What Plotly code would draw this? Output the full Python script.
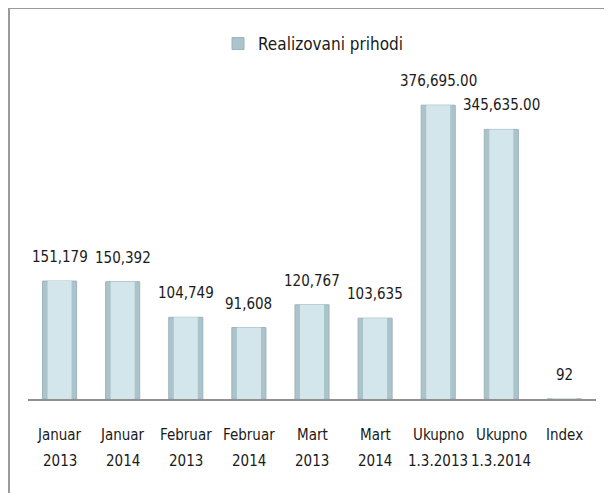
import plotly.graph_objects as go

# ---- data ----
cat_line1 = ["Januar", "Januar", "Februar", "Februar", "Mart", "Mart", "Ukupno", "Ukupno", "Index"]
cat_line2 = ["2013", "2014", "2013", "2014", "2013", "2014", "1.3.2013", "1.3.2014", ""]
values = [151179, 150392, 104749, 91608, 120767, 103635, 376695.00, 345635.00, 92]
value_labels = ["151,179", "150,392", "104,749", "91,608", "120,767", "103,635",
                "376,695.00", "345,635.00", "92"]
series_name = "Realizovani prihodi"

cats = [f"{a} {b}".strip() for a, b in zip(cat_line1, cat_line2)]

FONT = "Liberation Sans Narrow, Arial Narrow, DejaVu Sans Condensed, sans-serif"

fig = go.Figure()
# outer (darker) bar body
fig.add_trace(go.Bar(
    x=cats, y=values, name=series_name,
    width=0.54,
    marker=dict(color="#abc4cc", line=dict(color="#9cb4bc", width=1)),
    showlegend=True,
))
# inner lighter highlight
fig.add_trace(go.Bar(
    x=cats, y=values, name=series_name,
    width=0.38,
    marker=dict(color="#d3e6ec", line=dict(width=0)),
    showlegend=False, hoverinfo="skip",
))

annotations = []
for c, v, t in zip(cats, values, value_labels):
    annotations.append(dict(x=c, y=v, xref="x", yref="y", text=t, showarrow=False,
                            yanchor="bottom", yshift=13,
                            font=dict(family=FONT, size=15, color="#1a1a1a")))
for c, l1, l2 in zip(cats, cat_line1, cat_line2):
    annotations.append(dict(x=c, y=0, xref="x", yref="y", text=l1, showarrow=False,
                            yanchor="top", yshift=-25,
                            font=dict(family=FONT, size=15, color="#1a1a1a")))
    annotations.append(dict(x=c, y=0, xref="x", yref="y", text=l2, showarrow=False,
                            yanchor="top", yshift=-51,
                            font=dict(family=FONT, size=15, color="#1a1a1a")))

# page body has an 8px margin, so the figure is drawn 8px smaller
W, H = 604, 485
L, R, T, B = 20, 16, 79, 94
pw = W - L - R
ph = H - T - B

def px_to_paper_x(px):
    return (px - L) / pw

def px_to_paper_y(py):
    return (H - B - py) / ph

fig.update_layout(
    width=W, height=H,
    margin=dict(l=L, r=R, t=T, b=B, pad=0),
    paper_bgcolor="white", plot_bgcolor="white",
    barmode="overlay",
    bargap=0.46,
    font=dict(family=FONT, size=15, color="#1a1a1a"),
    showlegend=True,
    legend=dict(orientation="h", xref="container", yref="container",
                x=210 / W, y=1 - 18 / H, xanchor="left", yanchor="top",
                font=dict(family=FONT, size=17, color="#1a1a1a"),
                bgcolor="rgba(0,0,0,0)", itemwidth=30),
    xaxis=dict(showticklabels=False, ticks="", showline=True, linecolor="#8f8f8f",
               linewidth=2, showgrid=False, zeroline=False, fixedrange=True),
    yaxis=dict(range=[0, 400000], visible=False, showgrid=False, zeroline=False),
    annotations=annotations,
    shapes=[dict(type="rect", xref="paper", yref="paper",
                 x0=px_to_paper_x(1), x1=px_to_paper_x(640),
                 y0=px_to_paper_y(540), y1=px_to_paper_y(0),
                 line=dict(color="#9a9a9a", width=2), fillcolor="rgba(0,0,0,0)",
                 layer="below")],
)

fig.write_html("out.html")
